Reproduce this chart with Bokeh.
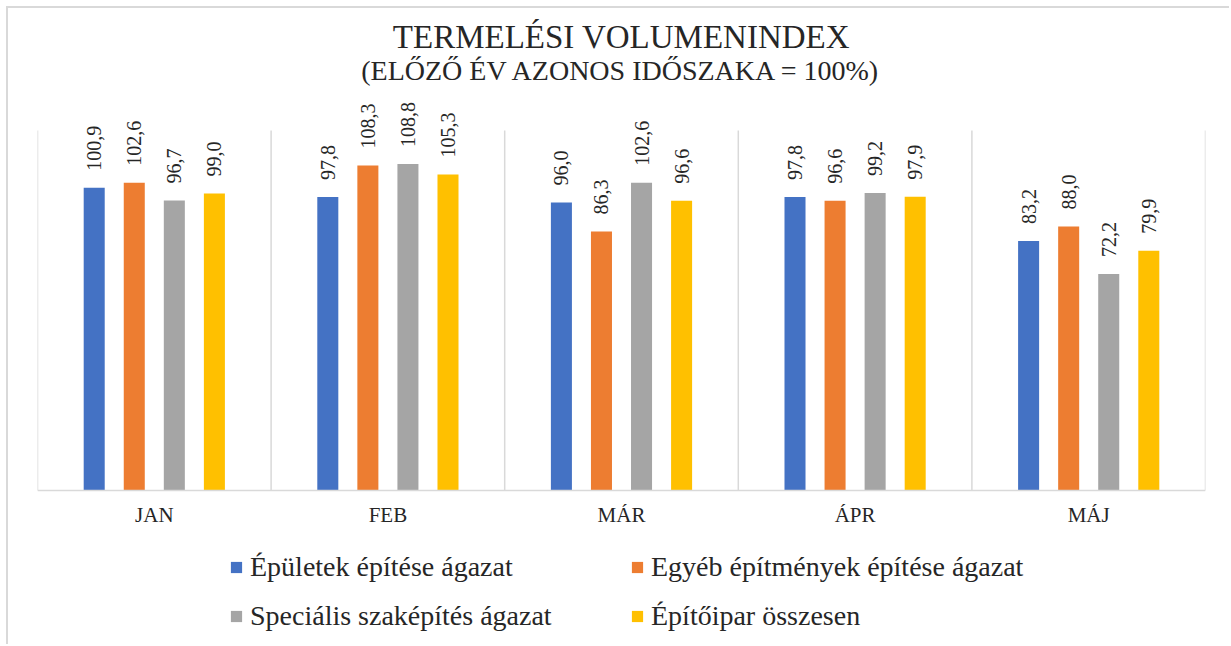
import math
from bokeh.plotting import figure
from bokeh.models import (FactorRange, Range1d, ColumnDataSource, Legend, LegendItem,
                          Title, LabelSet)
from bokeh.core.properties import value
from bokeh.transform import dodge
from bokeh.embed import file_html
from bokeh.resources import INLINE

months = ["JAN", "FEB", "MÁR", "ÁPR", "MÁJ"]
series_names = ["Épületek építése ágazat", "Egyéb építmények építése ágazat",
                "Speciális szaképítés ágazat", "Építőipar összesen"]
epuletek = [100.9, 97.8, 96.0, 97.8, 83.2]
egyeb = [102.6, 108.3, 86.3, 96.6, 88.0]
specialis = [96.7, 108.8, 102.6, 99.2, 72.2]
osszesen = [99.0, 105.3, 96.6, 97.9, 79.9]
colors = ["#4472C4", "#ED7D31", "#A5A5A5", "#FFC000"]
title_text = "TERMELÉSI VOLUMENINDEX"
subtitle_text = "(ELŐZŐ ÉV AZONOS IDŐSZAKA = 100%)"
y_top = 120

SERIF = "Liberation Serif"
SERIF2 = "Times New Roman"
TXT = "#262626"
GRID = "#d9d9d9"

p = figure(x_range=FactorRange(factors=months, range_padding=0),
           y_range=Range1d(-50, 131.667),
           width=1223, height=638, output_backend="svg", toolbar_location=None,
           min_border_left=29, min_border_right=26, min_border_top=87,
           min_border_bottom=6)
p.styles = {"margin-left": "6px", "margin-top": "6px",
            "border-left": "2px solid #d9d9d9", "border-top": "2px solid #d9d9d9"}
p.outline_line_color = None
p.yaxis.visible = False
p.ygrid.grid_line_color = None
p.xgrid.grid_line_color = None
p.xaxis.fixed_location = 0
p.xaxis.axis_line_color = GRID
p.xaxis.axis_line_width = 1.5
p.xaxis.major_tick_line_color = None
p.xaxis.minor_tick_line_color = None
p.xaxis.major_label_standoff = 6
p.xaxis.major_label_text_font = SERIF
p.xaxis.major_label_text_font_size = "21px"
p.xaxis.major_label_text_color = TXT

# category separators (at category boundaries)
bounds = list(range(len(months) + 1))
p.segment(x0=bounds, y0=[0] * len(bounds), x1=bounds, y1=[y_top] * len(bounds),
          line_color=GRID, line_width=1.5)

series = [epuletek, egyeb, specialis, osszesen]
step = 0.1715
offsets = [(k - 1.5) * step for k in range(4)]
items = []
for k, (vals, col, name) in enumerate(zip(series, colors, series_names)):
    src = ColumnDataSource(dict(m=months, v=vals,
                                lab=[f"{v:.1f}".replace(".", ",") for v in vals]))
    r = p.vbar(x=dodge("m", offsets[k], range=p.x_range), top="v", width=0.09,
               source=src, fill_color=col, line_color=None)
    items.append(LegendItem(label=name, renderers=[r]))
    p.add_layout(LabelSet(x=dodge("m", offsets[k], range=p.x_range), y="v", text="lab",
                          source=src, angle=math.pi / 2, y_offset=17,
                          text_align="left", text_baseline="middle",
                          text_font=value(SERIF2), text_font_size="20px", text_color=TXT))

# legend fills column-wise: order so rows read (0, 1) / (2, 3)
legend = Legend(items=[items[0], items[2], items[1], items[3]], ncols=2,
                location=(192, 8),
                label_text_font=SERIF2, label_text_font_size="28px",
                label_text_color=TXT, label_height=30, label_width=363,
                glyph_height=14, glyph_width=14, label_standoff=7,
                spacing=17, padding=0, margin=0,
                border_line_color=None, background_fill_alpha=0)
p.add_layout(legend, "center")

p.add_layout(Title(text=subtitle_text, align="center", text_font=SERIF,
                   text_font_size="28px", text_font_style="normal",
                   text_color=TXT, standoff=20), "above")
p.add_layout(Title(text=title_text, align="center", text_font=SERIF,
                   text_font_size="33px", text_font_style="normal",
                   text_color=TXT, standoff=-24), "above")

open("out.html", "w").write(file_html(p, INLINE))
